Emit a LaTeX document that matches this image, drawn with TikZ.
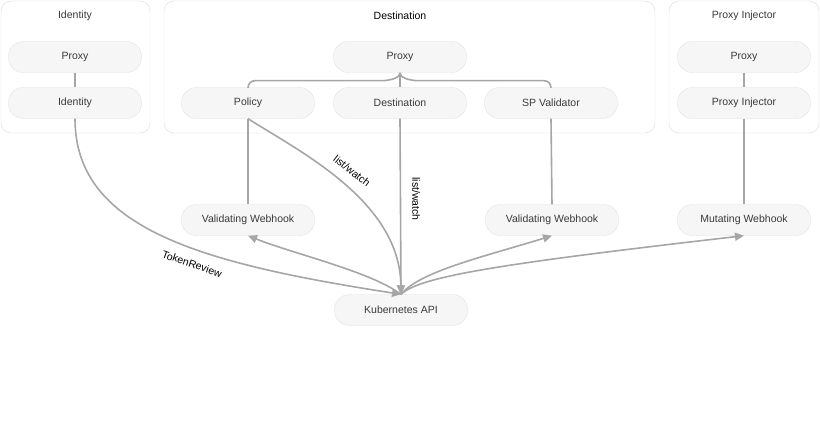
\documentclass[tikz,border=0pt]{standalone}
\usepackage{fontspec}
\setmainfont{Liberation Sans}
\usetikzlibrary{arrows.meta}
\definecolor{edge}{HTML}{A6A6A6}
\definecolor{pillfill}{HTML}{F6F6F6}
\definecolor{pillline}{HTML}{E2E2E2}
\definecolor{groupline}{HTML}{DADADA}
\definecolor{txt}{HTML}{3A3A3A}

\begin{document}
\begin{tikzpicture}[x=1pt,y=-1pt,font=\fontsize{10.5}{12}\selectfont,
  pill/.style={draw=pillline,fill=pillfill,rounded corners=15pt,minimum width=133pt,minimum height=31pt,inner sep=0pt,text=txt},
  group/.style={draw=groupline,rounded corners=10pt},
  title/.style={text=txt},
  link/.style={draw=edge,line width=1.6pt},
  tip/.style={-{Triangle[length=9pt,width=8pt]}},
  lbl/.style={text=black,inner sep=1pt}]
\useasboundingbox (0,0) rectangle (820,428);
% groups
\draw[group] (1,1) rectangle (150,133);
\draw[group] (164,1) rectangle (655,133);
\draw[group] (669,1) rectangle (819,133);
\node[title] (idtitle) at (75,16) {Identity};
\node[title,text=black] (desttitle) at (400,16) {Destination};
\node[title] (injtitle) at (744,16) {Proxy Injector};
% pods
\node[pill] (idproxy) at (75,57) {Proxy};
\node[pill] (identity) at (75,103) {Identity};
\node[pill] (dproxy) at (400,57) {Proxy};
\node[pill] (policy) at (248,103) {Policy};
\node[pill] (destination) at (400,103) {Destination};
\node[pill] (spval) at (551,103) {SP Validator};
\node[pill] (injproxy) at (744,57) {Proxy};
\node[pill] (injector) at (744,103) {Proxy Injector};
% webhooks and api
\node[pill] (vwleft) at (248,220) {Validating Webhook};
\node[pill] (vwright) at (552,220) {Validating Webhook};
\node[pill] (mwebhook) at (744,220) {Mutating Webhook};
\node[pill] (kube) at (401,310) {Kubernetes API};
% inside the pods
\draw[link] (idproxy) -- (identity);
\draw[link] (injproxy) -- (injector);
\draw[link] (dproxy) -- (destination);
\draw[link,rounded corners=7pt] (dproxy.south) .. controls +(0,6) and +(14,0) .. ++(-26,8) -| (policy.north);
\draw[link,rounded corners=7pt] (dproxy.south) .. controls +(0,6) and +(-14,0) .. ++(26,8) -| (spval.north);
% webhooks
\draw[link] (policy.south) -- (vwleft.north);
\draw[link] (spval.south) -- (vwright.north);
\draw[link] (injector.south) -- (mwebhook.north);
% to the api
\draw[link,tip] (identity.south) .. controls +(0,110) and +(-200,-31) .. (kube.north);
\draw[link,tip] (policy.south) .. controls +(52,33) and +(-1,-93) .. (kube.north);
\draw[link,tip] (destination.south) -- (kube.north);
\node[lbl,rotate=-19] (tokenlbl) at (192,264) {TokenReview};
\node[lbl,rotate=-38] (watchlbl) at (352,171) {list/watch};
\node[lbl,rotate=-90] (watchlbl2) at (416,199) {list/watch};
% from the api
\draw[link,tip] (kube.north) .. controls +(-31,-23) and +(45,18) .. (vwleft.south);
\draw[link,tip] (kube.north) .. controls +(19,-23) and +(-68,21) .. (vwright.south);
\draw[link,tip] (kube.north) .. controls +(19,-18) and +(-243,28) .. (mwebhook.south);
\end{tikzpicture}
\end{document}
